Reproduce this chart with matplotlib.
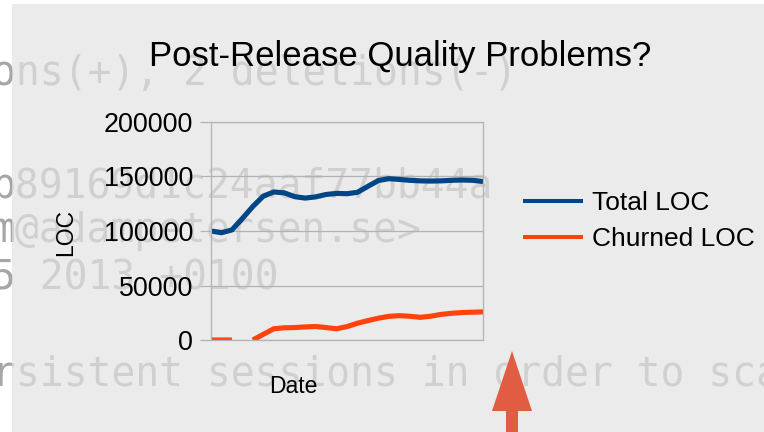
import matplotlib

matplotlib.use("Agg")
import matplotlib.pyplot as plt
import numpy as np
from matplotlib.patches import FancyArrow, Rectangle
from matplotlib.transforms import IdentityTransform

W, H = 764, 432
FONT = "Liberation Sans"

# weekly samples (one point missing in the churn series)
weeks = np.arange(27)
total_loc = [100000, 98400, 101000, 111500, 122500, 132000, 135800, 135000, 131500,
             130200, 131300, 133500, 134500, 134200, 135500, 141000, 146300, 148000,
             147300, 146500, 146000, 145800, 146000, 146500, 146800, 146500, 145400]
churned_loc = [0, 0, 0, np.nan, 0, 5200, 10300, 11200, 11400, 12000, 12400, 11400,
               10300, 12300, 15400, 17800, 20000, 21700, 22300, 21800, 20800, 21800,
               23500, 24500, 25200, 25500, 25800]
y_ticks = [0, 50000, 100000, 150000, 200000]
series_names = ["Total LOC", "Churned LOC"]
series_colors = ["#004586", "#ff420e"]

# faint terminal text of the previous slide, showing through the fade
backdrop_lines = [
    ("ons(+), 2 deletions(-)", 85),
    ("b89169d1c24aaf77bb44a", 197),
    ("m@adampetersen.se>", 242),
    ("5 2013 +0100", 290),
    ("rsistent sessions in order to sca", 385),
]


def fx(px):
    return px / W


def fy(py):
    return 1 - py / H


def main():
    fig = plt.figure(figsize=(W / 100, H / 100), dpi=100, facecolor="white")

    for text, base in backdrop_lines:
        fig.text(fx(-8.4), fy(base), text, family="DejaVu Sans Mono", fontsize=28.6,
                 color="#a6a6a6", va="baseline", ha="left", zorder=-3)
    fig.patches.append(Rectangle((fx(12), 0), 1 - fx(12), fy(4), transform=fig.transFigure,
                                 facecolor="#e3e3e3", edgecolor="none", alpha=0.7, zorder=-2))

    ax = fig.add_axes([fx(211), fy(340), fx(483) - fx(211), fy(122) - fy(340)])
    ax.patch.set_facecolor("none")
    grid_c = "#b3b3b3"
    for s in ax.spines.values():
        s.set_color(grid_c)
        s.set_linewidth(0.9)
    ax.set_xlim(weeks[0], weeks[-1])
    ax.set_ylim(0, 200000)
    ax.set_yticks(y_ticks)
    ax.set_yticklabels([str(v) for v in y_ticks], fontsize=19.4, family=FONT)
    ax.set_xticks([])
    ax.tick_params(axis="y", length=7.9, width=0.9, color=grid_c, pad=5)
    ax.grid(axis="y", color=grid_c, linewidth=0.9)
    ax.set_axisbelow(True)

    for vals, name, c in zip([total_loc, churned_loc], series_names, series_colors):
        ax.plot(weeks, vals, color=c, linewidth=3.7, label=name,
                solid_capstyle="butt", solid_joinstyle="round")

    leg = ax.legend(loc="center left", bbox_to_anchor=(fx(523), fy(221)),
                    bbox_transform=fig.transFigure, frameon=False, borderpad=0,
                    borderaxespad=0, handlelength=2.27, handletextpad=0.34,
                    labelspacing=0.45, prop={"family": FONT, "size": 19})
    for h in leg.get_lines():
        h.set_linewidth(2.9)

    fig.text(fx(400), fy(66), "Post-Release Quality Problems?", family=FONT, fontsize=25,
             ha="center", va="baseline")
    fig.text(fx(66), fy(232), "LOC", family=FONT, fontsize=16.5, rotation=90,
             ha="center", va="center")
    fig.text(fx(293), fy(393), "Date", family=FONT, fontsize=16.5, ha="center", va="baseline")

    # pointer arrow at the bottom of the slide
    fig.patches.append(FancyArrow(512, -10, 0, 91, width=12, head_width=40, head_length=60,
                                  length_includes_head=True, transform=IdentityTransform(),
                                  facecolor="#e05d44", edgecolor="none", zorder=4))

    fig.savefig("out.png", dpi=100, facecolor="white")
    plt.close(fig)


if __name__ == "__main__":
    main()
